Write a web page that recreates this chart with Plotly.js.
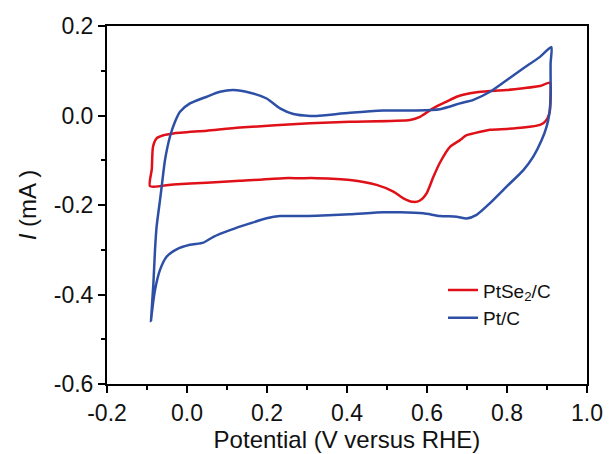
<!DOCTYPE html>
<html>
<head>
<meta charset="utf-8">
<script src="https://cdn.plot.ly/plotly-3.0.1.min.js"></script>
<style>html,body{margin:0;padding:0;background:#fff;}#chart{width:611px;height:454px;}</style>
</head>
<body>
<div id="chart"></div>
<script>
// PtSe2/C cyclic voltammogram
const ptse2X = [-0.0925,-0.088,-0.085,-0.076,-0.059,-0.034,0.049,0.1325,0.3075,0.4075,0.5575,0.5825,0.615,0.649,0.674,0.699,0.716,0.7575,0.799,0.841,0.8825,0.9075,0.909,0.906,0.895,0.8825,0.841,0.799,0.7575,0.716,0.699,0.6825,0.6575,0.6325,0.616,0.599,0.5825,0.566,0.541,0.516,0.474,0.4075,0.324,0.2825,0.241,0.1325,0.049,-0.034,-0.0925];
const ptse2Y = [-0.158,-0.120,-0.070,-0.051,-0.044,-0.040,-0.034,-0.027,-0.0175,-0.014,-0.010,-0.003,0.016,0.031,0.042,0.048,0.051,0.055,0.057,0.061,0.066,0.073,0.042,0.005,-0.014,-0.021,-0.027,-0.030,-0.032,-0.040,-0.044,-0.055,-0.070,-0.105,-0.137,-0.174,-0.190,-0.193,-0.185,-0.170,-0.155,-0.144,-0.140,-0.140,-0.140,-0.146,-0.150,-0.154,-0.158];

// Pt/C cyclic voltammogram
const ptcX = [-0.09,-0.084,-0.08,-0.076,-0.0675,-0.0633,-0.055,-0.0425,-0.03,-0.0175,0.0075,0.049,0.0825,0.116,0.1575,0.199,0.2325,0.266,0.3075,0.324,0.4075,0.491,0.574,0.6325,0.6825,0.716,0.7575,0.799,0.841,0.8825,0.911,0.909,0.909,0.906,0.899,0.8867,0.8657,0.841,0.799,0.7575,0.724,0.699,0.674,0.6325,0.591,0.5325,0.491,0.4075,0.324,0.2825,0.2325,0.199,0.1575,0.1075,0.066,0.041,0.0075,-0.026,-0.051,-0.0675,-0.08,-0.088,-0.09];
const ptcY = [-0.459,-0.375,-0.3006,-0.2485,-0.189,-0.159,-0.0994,-0.047,-0.014,0.0085,0.027,0.042,0.053,0.057,0.051,0.038,0.016,0.0034,-0.001,-0.001,0.006,0.011,0.011,0.014,0.027,0.035,0.053,0.079,0.1055,0.131,0.153,0.117,0.042,0.005,-0.025,-0.055,-0.092,-0.122,-0.159,-0.196,-0.222,-0.230,-0.226,-0.2246,-0.2186,-0.2163,-0.2163,-0.2208,-0.224,-0.2246,-0.2246,-0.2297,-0.241,-0.256,-0.271,-0.284,-0.289,-0.299,-0.3155,-0.345,-0.39,-0.442,-0.459];

const xTickVals = [-0.2,0.0,0.2,0.4,0.6,0.8,1.0];
const xTickText = ["-0.2","0.0","0.2","0.4","0.6","0.8","1.0"];
const yTickVals = [-0.6,-0.4,-0.2,0.0,0.2];
const yTickText = ["-0.6","-0.4","-0.2","0.0","0.2"];

const traces = [
  {x: ptse2X, y: ptse2Y, type:'scatter', mode:'lines', name:'PtSe<sub>2</sub>/C',
   line:{color:'#e01018', width:2.5, shape:'spline', smoothing:0.6}},
  {x: ptcX, y: ptcY, type:'scatter', mode:'lines', name:'Pt/C',
   line:{color:'#2d4fa6', width:2.5, shape:'spline', smoothing:0.6}}
];

const font = 'Liberation Sans, Arial, sans-serif';
const layout = {
  width:611, height:454,
  margin:{l:107, r:24, t:26, b:70},
  paper_bgcolor:'#ffffff', plot_bgcolor:'#ffffff',
  showlegend:true,
  legend:{x:0.70, y:0.315, xanchor:'left', yanchor:'top', bgcolor:'rgba(0,0,0,0)',
    font:{family:font, size:19, color:'#111'}, tracegroupgap:0},
  xaxis:{range:[-0.2,1.0], tickvals:xTickVals, ticktext:xTickText, ticks:'outside', ticklen:7, tickwidth:2,
    tickcolor:'#000', showline:true, linecolor:'#000', linewidth:2, mirror:true, showgrid:false, zeroline:false,
    tickfont:{family:font, size:23, color:'#111'},
    minor:{dtick:0.1, tick0:-0.2, ticks:'outside', ticklen:4, tickwidth:2, tickcolor:'#000', showgrid:false},
    title:{text:'Potential (V versus RHE)', font:{family:font, size:24, color:'#111'}, standoff:4}},
  yaxis:{range:[-0.6,0.2], tickvals:yTickVals, ticktext:yTickText, ticks:'outside', ticklen:7, tickwidth:2,
    tickcolor:'#000', showline:true, linecolor:'#000', linewidth:2, mirror:true, showgrid:false, zeroline:false,
    tickfont:{family:font, size:23, color:'#111'},
    minor:{dtick:0.1, tick0:-0.6, ticks:'outside', ticklen:4, tickwidth:2, tickcolor:'#000', showgrid:false},
    title:{text:'<i>I</i> (mA )', font:{family:font, size:24, color:'#111'}, standoff:10}}
};

Plotly.newPlot('chart', traces, layout, {displayModeBar:false, staticPlot:true});
</script>
</body>
</html>
